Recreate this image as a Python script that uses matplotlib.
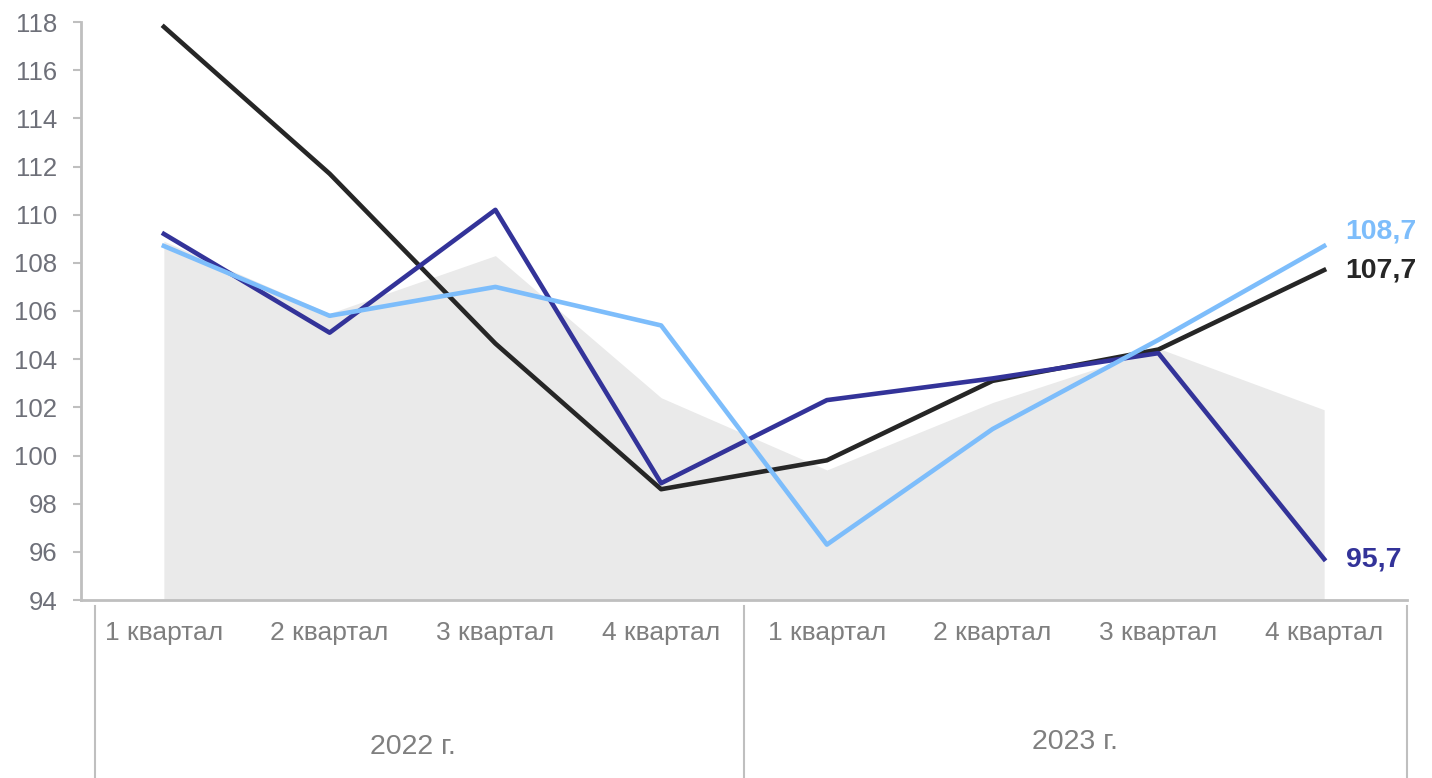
import numpy as np
import matplotlib.pyplot as plt
from matplotlib.lines import Line2D

plt.rcParams['font.family'] = ['Liberation Sans', 'DejaVu Sans']

quarters = ['1 квартал', '2 квартал', '3 квартал', '4 квартал'] * 2
years = ['2022 г.', '2023 г.']

area_vals = [108.9, 105.9, 108.3, 102.4, 99.4, 102.2, 104.45, 101.9]
navy_vals = [109.2, 105.1, 110.2, 98.85, 102.3, 103.2, 104.25, 95.7]
light_vals = [108.7, 105.8, 107.0, 105.4, 96.3, 101.1, 104.8, 108.7]
black_vals = [117.8, 111.7, 104.65, 98.6, 99.8, 103.1, 104.4, 107.7]

c_navy = '#333399'
c_light = '#7DBDFB'
c_black = '#262626'
c_area = '#EAEAEA'
c_axis = '#BFBFBF'

fig = plt.figure(figsize=(14.32, 7.78), dpi=100)
ax = fig.add_axes([81 / 1432, 1 - 600 / 778, (1407 - 81) / 1432, (600 - 22) / 778])

x = np.arange(len(quarters))
ax.fill_between(x, 94, area_vals, color=c_area, lw=0, zorder=1)
ax.plot(x, navy_vals, color=c_navy, lw=3.3, zorder=3)
ax.plot(x, light_vals, color=c_light, lw=3.3, zorder=4)
ax.plot(x, black_vals, color=c_black, lw=3.3, zorder=2)

ax.set_xlim(-0.5, 7.5)
ax.set_ylim(94, 118)
ax.set_yticks(np.arange(94, 119, 2))
ax.tick_params(axis='y', colors=c_axis, length=6, width=1.5, labelsize=18.5,
               labelcolor='#6E7079', pad=11)
ax.set_xticks([])
for s in ['top', 'right']:
    ax.spines[s].set_visible(False)
ax.spines['left'].set_color(c_axis)
ax.spines['left'].set_linewidth(2)
ax.spines['bottom'].set_color(c_axis)
ax.spines['bottom'].set_linewidth(2)

# end labels
ax.text(7.13, light_vals[-1] + 0.6, '108,7', color=c_light, fontsize=20.5, fontweight='bold', va='center')
ax.text(7.13, black_vals[-1], '107,7', color=c_black, fontsize=20.5, fontweight='bold', va='center')
ax.text(7.13, navy_vals[-1], '95,7', color=c_navy, fontsize=20.5, fontweight='bold', va='center')

# category axis (two levels)
trans = ax.get_xaxis_transform()
for i, q in enumerate(quarters):
    ax.text(i, -0.057, q, transform=trans, ha='center', va='center', fontsize=19, color='#7F7F7F')
for j, yr in enumerate(years):
    ax.text(1.5 + 4 * j, -0.255 + 0.01 * j, yr, transform=trans, ha='center', va='center',
            fontsize=20.5, color='#7F7F7F')
for xb in [-0.415, 3.5, 7.5]:
    ax.add_line(Line2D([xb, xb], [-0.01, -0.31], transform=trans, color=c_axis, lw=1.5, clip_on=False))

fig.savefig('out.png', dpi=100)
